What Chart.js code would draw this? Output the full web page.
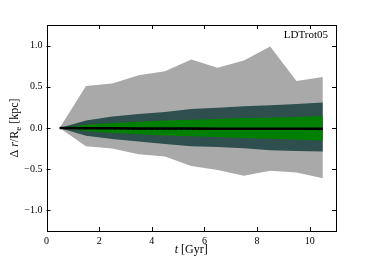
<!DOCTYPE html>
<html><head><meta charset="utf-8">
<script src="https://cdn.jsdelivr.net/npm/chart.js@4/dist/chart.umd.min.js"></script>
<style>html,body{margin:0;padding:0;background:#fff}#w{width:374px;height:257px}</style>
</head><body><div id="w"><canvas id="c"></canvas></div>
<script>
const times = [0.5,1.5,2.5,3.5,4.5,5.5,6.5,7.5,8.5,9.5,10.5];
const grayUpper = [0,0.51,0.54,0.64,0.69,0.83,0.73,0.82,0.99,0.57,0.62];
const grayLower = [0,-0.22,-0.25,-0.32,-0.345,-0.46,-0.51,-0.58,-0.52,-0.54,-0.61];
const slateUpper = [0,0.09,0.14,0.17,0.195,0.23,0.245,0.265,0.275,0.29,0.31];
const slateLower = [0,-0.095,-0.135,-0.165,-0.195,-0.22,-0.23,-0.245,-0.27,-0.28,-0.285];
const greenUpper = [0,0.04,0.06,0.075,0.09,0.10,0.11,0.12,0.125,0.135,0.145];
const greenLower = [0,-0.04,-0.06,-0.075,-0.09,-0.10,-0.11,-0.12,-0.13,-0.14,-0.155];
const medianLine = [0,-0.003,-0.004,-0.005,-0.006,-0.007,-0.008,-0.008,-0.009,-0.009,-0.01];
const meanLine = [0,-0.006,-0.008,-0.01,-0.012,-0.013,-0.014,-0.015,-0.016,-0.016,-0.017];
const xTicks = [0,2,4,6,8,10];
const yTicks = [-1.0,-0.5,0.0,0.5,1.0];
const panelLabel = 'LDTrot05';

const pts = a => a.map((v,i)=>({x:times[i],y:v}));
const band = (data,color,fill,order)=>({data:pts(data),order:order,borderWidth:0,pointRadius:0,backgroundColor:color,borderColor:color,fill:fill,tension:0});
const SERIF = '"Liberation Serif", "DejaVu Serif", serif';

const inTicks = {
  id:'inTicks',
  afterDraw(ch){
    const c=ch.ctx, a=ch.chartArea, xs=ch.scales.x, ys=ch.scales.y;
    c.save(); c.strokeStyle='#000'; c.lineWidth=1;
    c.beginPath();
    xTicks.forEach(t=>{const p=Math.round(xs.getPixelForValue(t))+0.5;
      c.moveTo(p,a.bottom);c.lineTo(p,a.bottom-4);c.moveTo(p,a.top);c.lineTo(p,a.top+4);});
    yTicks.forEach(t=>{const p=Math.round(ys.getPixelForValue(t))+0.5;
      c.moveTo(a.left,p);c.lineTo(a.left+4,p);c.moveTo(a.right,p);c.lineTo(a.right-4,p);});
    c.stroke();
    c.strokeStyle='#000'; c.lineWidth=1;
    c.strokeRect(Math.round(a.left)+0.5,Math.round(a.top)+0.5,Math.round(a.right-a.left)-1,Math.round(a.bottom-a.top));
    c.fillStyle='#000'; c.font='11px '+SERIF; c.textAlign='right'; c.textBaseline='middle';
    c.fillText(panelLabel,a.right-8,a.top+10);
    c.textBaseline='alphabetic'; c.textAlign='left';
    const xt=[['italic 12px '+SERIF,'t'],['12px '+SERIF,' [Gyr]']];
    let w=0; xt.forEach(s=>{c.font=s[0];w+=c.measureText(s[1]).width;});
    let x0=(a.left+a.right)/2-w/2;
    xt.forEach(s=>{c.font=s[0];c.fillText(s[1],x0,253);x0+=c.measureText(s[1]).width;});
    c.translate(18,(a.top+a.bottom)/2); c.rotate(-Math.PI/2);
    const yt=[['12px '+SERIF,'Δ '],['italic 12px '+SERIF,'r'],['12px '+SERIF,'/R'],['9px '+SERIF,'e',3],['12px '+SERIF,' [kpc]']];
    w=0; yt.forEach(s=>{c.font=s[0];w+=c.measureText(s[1]).width;});
    x0=-w/2;
    yt.forEach(s=>{c.font=s[0];c.fillText(s[1],x0,s[2]||0);x0+=c.measureText(s[1]).width;});
    c.restore();
  }
};

new Chart(document.getElementById('c'),{
  type:'line',
  data:{datasets:[
    band(grayUpper,'#A9A9A9','+1',6),
    band(grayLower,'#A9A9A9',false,6),
    band(slateUpper,'#2F4F4F','+1',4),
    band(slateLower,'#2F4F4F',false,4),
    band(greenUpper,'#008000','+1',2),
    band(greenLower,'#008000',false,2),
    {data:pts(meanLine),order:1,borderColor:'#000',borderWidth:1.5,borderDash:[3,3],pointRadius:0,fill:false},
    {data:pts(medianLine),order:0,borderColor:'#000',borderWidth:2.5,pointRadius:0,fill:false}
  ]},
  options:{
    responsive:true,maintainAspectRatio:false,animation:false,
    layout:{padding:{left:0,right:38,top:25,bottom:0}},
    plugins:{legend:{display:false},tooltip:{enabled:false}},
    scales:{
      x:{type:'linear',min:0,max:11,
        afterBuildTicks:s=>{s.ticks=xTicks.map(v=>({value:v}));},
        afterFit:s=>{s.height=26;},
        grid:{display:false,drawTicks:false},border:{display:false},
        ticks:{padding:4,color:'#000',font:{family:SERIF,size:10},maxRotation:0,autoSkip:false,callback:v=>String(v)}},
      y:{min:-1.25,max:1.25,
        afterBuildTicks:s=>{s.ticks=yTicks.map(v=>({value:v}));},
        afterFit:s=>{s.width=46.5;},
        grid:{display:false,drawTicks:false},border:{display:false},
        ticks:{padding:4,color:'#000',font:{family:SERIF,size:10},autoSkip:false,
          callback:v=>(v<0?'\u2212':'')+Math.abs(v).toFixed(1)}}
    }
  },
  plugins:[inTicks]
});
</script></body></html>
